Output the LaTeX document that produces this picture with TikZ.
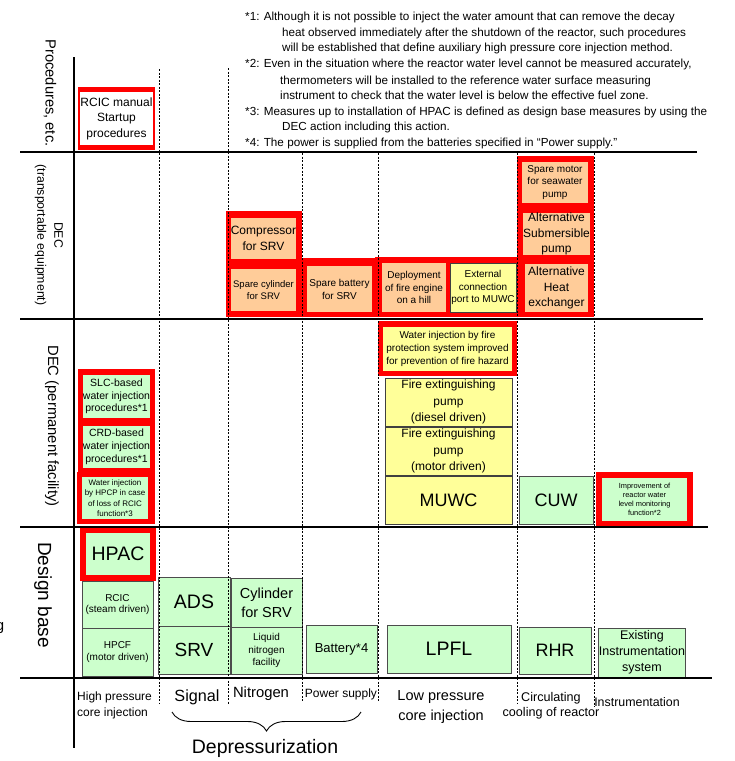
\documentclass[tikz,border=0pt]{standalone}
\usepackage{fontspec}
\setmainfont{Liberation Sans}
\usetikzlibrary{decorations.pathreplacing}
\definecolor{gfill}{HTML}{CCFFCC}
\definecolor{yfill}{HTML}{FFFF99}
\definecolor{ofill}{HTML}{FFCC99}
\definecolor{rfill}{HTML}{FF0000}
\newcommand\fs[2]{\fontsize{#1}{#2}\selectfont}
\newcommand\drawbx[7]{%
  \pgfmathsetmacro\bxw{#5-#3}\pgfmathsetmacro\bxh{#6-#4}%
  \pgfmathsetmacro\bxc{(#3+#5)/2}\pgfmathsetmacro\bxd{(#4+#6)/2}%
  \node[#2, minimum width=\bxw pt, minimum height=\bxh pt] (#1) at (\bxc,\bxd) {#7};}
\newcommand\redbg[4]{\fill[rfill] (#1,#2) rectangle (#3,#4);}
\begin{document}
\begin{tikzpicture}[x=1pt,y=-1pt,
  basebox/.style={inner sep=0pt, outer sep=0pt, align=center, text=black},
  gbox/.style={basebox, fill=gfill, draw=black!70, line width=0.9pt},
  gin/.style={basebox, fill=gfill},
  ybox/.style={basebox, fill=yfill, draw=black!75, line width=0.9pt},
  yin/.style={basebox, fill=yfill},
  obox/.style={basebox, fill=ofill},
  wbox/.style={basebox, fill=white},
  axis/.style={line width=2.4pt},
  divider/.style={line width=0.8pt, dash pattern=on 2pt off 1.5pt},
  lbl/.style={inner sep=0pt, align=center},
  note/.style={inner sep=0pt, anchor=base west, font=\fs{11.7}{14}}]
\useasboundingbox (0,0) rectangle (735,761);

% notes
\node[note] (n1a) at (245,20) {*1: Although it is not possible to inject the water amount that can remove the decay};
\node[note] (n1b) at (282,36) {heat observed immediately after the shutdown of the reactor, such procedures};
\node[note] (n1c) at (282,51) {will be established that define auxiliary high pressure core injection method.};
\node[note] (n2a) at (245,67) {*2: Even in the situation where the reactor water level cannot be measured accurately,};
\node[note] (n2b) at (280,84) {thermometers will be installed to the reference water surface measuring};
\node[note] (n2c) at (280,99) {instrument to check that the water level is below the effective fuel zone.};
\node[note] (n3a) at (245,115) {*3: Measures up to installation of HPAC is defined as design base measures by using the};
\node[note] (n3b) at (282,130) {DEC action including this action.};
\node[note] (n4a) at (245,146) {*4: The power is supplied from the batteries specified in “Power supply.”};

% procedures row
\redbg{78}{87}{155}{150}
\drawbx{rcicman}{wbox, font=\fs{12}{15.5}}{83}{92}{150}{145}{RCIC manual\\Startup\\procedures}

% DEC transportable
\redbg{226}{211}{302}{317}
\drawbx{comp}{obox, font=\fs{12}{16.5}}{231}{218}{296}{259}{Compressor\\for SRV}
\drawbx{spcyl}{obox, font=\fs{9.5}{11.7}}{231}{269}{296}{311}{Spare cylinder\\for SRV}
\redbg{302}{258}{380}{317}
\drawbx{spbat}{obox, font=\fs{10}{13}}{307}{266}{372}{312}{Spare battery\\for SRV}
\redbg{375}{257}{518}{317}
\drawbx{deploy}{obox, font=\fs{10}{12.2}}{382}{263}{446}{312}{Deployment\\of fire engine\\on a hill}
\drawbx{extcon}{ybox, font=\fs{10}{12.2}}{450}{263}{516}{312}{External\\connection\\port to MUWC}
\redbg{517}{156}{594}{317}
\drawbx{spmot}{obox, font=\fs{10}{12.7}}{522}{162}{588}{203}{Spare motor\\for seawater\\pump}
\drawbx{altsub}{obox, font=\fs{12}{15.8}}{523}{213}{590}{255}{Alternative\\Submersible\\pump}
\drawbx{altheat}{obox, font=\fs{12}{15.7}}{525}{264}{588}{312}{Alternative\\Heat\\exchanger}

% DEC permanent
\redbg{78}{369}{155}{472}
\redbg{77}{472}{155}{524}
\drawbx{slc}{gin, font=\fs{10.5}{12.5}}{84}{375}{149}{418}{SLC-based\\water injection\\procedures*1}
\drawbx{crd}{gin, font=\fs{10.5}{12.8}}{84}{426}{149}{468}{CRD-based\\water injection\\procedures*1}
\drawbx{hpcp}{gin, font=\fs{8}{10.3}}{82}{477}{148}{519}{Water injection\\by HPCP in case\\of loss of RCIC\\function*3}
\redbg{378}{321}{517}{376}
\drawbx{fireprot}{yin, font=\fs{10}{12.8}}{383}{327}{512}{371}{Water injection by fire\\protection system improved\\for prevention of fire hazard}
\drawbx{fediesel}{ybox, font=\fs{12}{16.2}}{385}{378}{512}{426}{Fire extinguishing\\pump\\(diesel driven)}
\drawbx{femotor}{ybox, font=\fs{12}{16.2}}{385}{427}{512}{475}{Fire extinguishing\\pump\\(motor driven)}
\drawbx{muwc}{ybox, font=\fs{18}{20}}{385}{476}{512}{524}{MUWC}
\drawbx{cuw}{gbox, font=\fs{18}{20}}{519}{476}{593}{524}{CUW}
\redbg{596}{472}{693}{526}
\drawbx{improve}{gin, font=\fs{7.4}{9.2}}{602}{478}{687}{521}{Improvement of\\reactor water\\level monitoring\\function*2}

% design base
\redbg{80}{527}{156}{581}
\drawbx{hpac}{gin, font=\fs{19.5}{20}}{86}{533}{150}{575}{HPAC}
\drawbx{rcic}{gbox, font=\fs{10}{11.7}}{82}{581}{153}{628}{RCIC\\(steam driven)}
\drawbx{hpcf}{gbox, font=\fs{10}{11.7}}{82}{628}{153}{676}{HPCF\\(motor driven)}
\drawbx{ads}{gbox, font=\fs{19.5}{20}}{158}{577}{230}{626}{ADS}
\drawbx{srv}{gbox, font=\fs{19}{20}}{158}{626}{230}{674}{SRV}
\drawbx{cylsrv}{gbox, font=\fs{14.5}{19.3}}{231}{578}{302}{627}{Cylinder\\for SRV}
\drawbx{liqn}{gbox, font=\fs{10}{12.5}}{231}{627}{302}{674}{Liquid\\nitrogen\\facility}
\drawbx{battery}{gbox, font=\fs{13}{15}}{306}{625}{377}{673}{Battery*4}
\drawbx{lpfl}{gbox, font=\fs{19.5}{20}}{387}{625}{511}{673}{LPFL}
\drawbx{rhr}{gbox, font=\fs{18}{20}}{519}{627}{591}{674}{RHR}
\drawbx{existing}{gbox, font=\fs{12.5}{15.8}}{599}{628}{685}{677}{Existing\\Instrumentation\\system}

% axes
\draw[axis] (74,57) -- (74,748);
\draw[axis] (20,152) -- (697,152);
\draw[axis] (20,319) -- (703,319);
\draw[axis] (20,527) -- (708,527);
\draw[axis] (20,678) -- (712,678);

% dotted dividers
\draw[divider] (159,69) -- (159,703);
\draw[divider] (228,68) -- (228,705);
\draw[divider] (302,153) -- (302,702);
\draw[divider] (378,153) -- (378,702);
\draw[divider] (517,153) -- (517,703);
\draw[divider] (594,153) -- (594,707);

% row labels
\node[lbl, rotate=-90, font=\fs{14.7}{16}] (lproc) at (50,93) {Procedures, etc.};
\node[lbl, rotate=-90, font=\fs{12.3}{17}] (ldect) at (49,235) {DEC\\(transportable equipment)};
\node[lbl, rotate=-90, font=\fs{14.8}{16}] (ldecp) at (52,426) {DEC (permanent facility)};
\node[lbl, rotate=-90, font=\fs{19}{20}] (ldb) at (43,595) {Design base};
\node[lbl, anchor=east, font=\fs{15}{16}] (gfrag) at (4.5,628) {g};

% column labels
\node[lbl, align=left, anchor=west, font=\fs{12}{16}] (chpci) at (77,705) {High pressure\\core injection};
\node[lbl, font=\fs{16.2}{18}] (csig) at (197,697) {Signal};
\node[lbl, font=\fs{14.8}{16}] (cnit) at (261,694) {Nitrogen};
\node[lbl, font=\fs{12}{14}] (cpow) at (341,694) {Power supply};
\node[lbl, font=\fs{14.5}{20}] (clpci) at (441,707) {Low pressure\\core injection};
\node[lbl, font=\fs{12.6}{15}] (ccirc) at (551,706) {Circulating\\cooling of reactor};
\node[lbl, font=\fs{12.4}{14}] (cinst) at (637,702) {Instrumentation};
\coordinate (brR) at (361,712);
\coordinate (brL) at (172,712);
\draw[decorate, decoration={brace, amplitude=19pt}, line width=0.9pt] (brR) -- (brL);
\node[lbl, font=\fs{19.5}{20}] (cdep) at (265,748) {Depressurization};
\end{tikzpicture}
\end{document}
